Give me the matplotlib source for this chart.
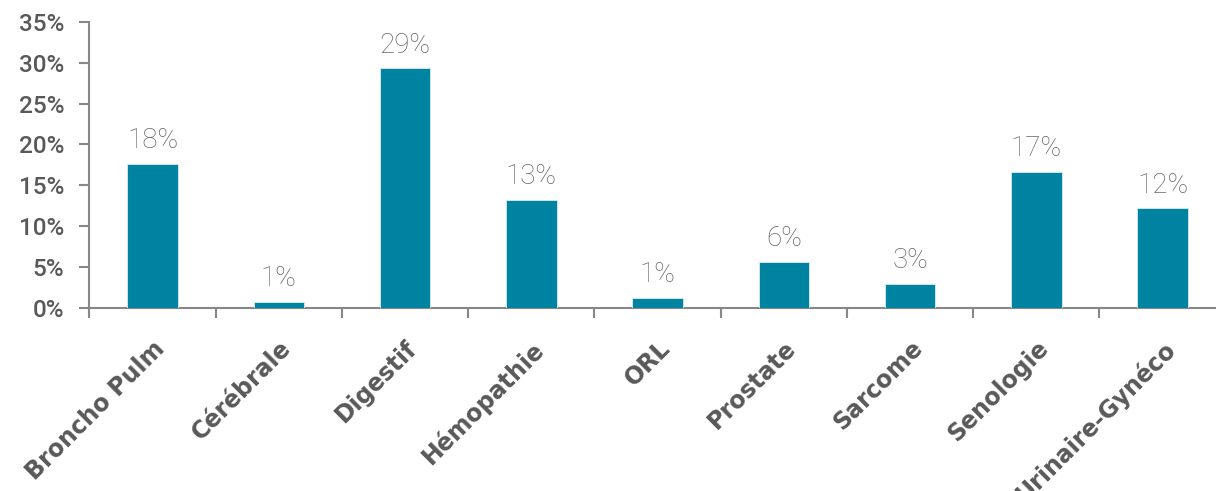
import matplotlib
matplotlib.use("Agg")
import matplotlib.pyplot as plt
from matplotlib.ticker import FixedLocator

categories = ["Broncho Pulm", "Cérébrale", "Digestif", "Hémopathie", "ORL",
              "Prostate", "Sarcome", "Senologie", "Urinaire-Gynéco"]
values = [17.6, 0.8, 29.3, 13.2, 1.3, 5.7, 3.0, 16.7, 12.2]
value_labels = ["18%", "1%", "29%", "13%", "1%", "6%", "3%", "17%", "12%"]
y_ticks = [0, 5, 10, 15, 20, 25, 30, 35]
y_tick_labels = ["0%", "5%", "10%", "15%", "20%", "25%", "30%", "35%"]

BAR = "#0083A1"
AXIS = "#878787"
TXT = "#595959"

fig = plt.figure(figsize=(12.16, 4.91), dpi=100)
ax = fig.add_axes([0.0736, 0.372, 1.008 - 0.0736, 0.956 - 0.372])

x = list(range(len(categories)))
ax.bar(x, values, width=0.40, color=BAR, edgecolor="#d8eef3", linewidth=0.6, zorder=3)

for xi, v, lab in zip(x, values, value_labels):
    ax.annotate(lab, (xi, v), xytext=(0, 7), textcoords="offset points",
                ha="center", va="bottom", fontsize=20, color="#666666",
                family="Roboto", fontweight="light")

ax.set_xlim(-0.5, len(categories) - 0.5)
ax.set_ylim(0, 35)

for s in ["top", "right"]:
    ax.spines[s].set_visible(False)
for s in ["left", "bottom"]:
    ax.spines[s].set_color(AXIS)
    ax.spines[s].set_linewidth(1.5)

ax.set_yticks(y_ticks)
ax.set_yticklabels(y_tick_labels, fontsize=17.5, color=TXT, family="Roboto", fontweight="medium")
ax.tick_params(axis="y", length=7, width=1.5, color=AXIS, pad=11)

ax.xaxis.set_major_locator(FixedLocator(x))
ax.set_xticklabels(categories)
ax.xaxis.set_minor_locator(FixedLocator([i - 0.5 for i in range(len(categories) + 1)]))
ax.tick_params(axis="x", which="major", length=0, pad=20)
ax.tick_params(axis="x", which="minor", length=7, width=1.5, color=AXIS)
for t in ax.get_xticklabels():
    t.set_rotation(45)
    t.set_ha("right")
    t.set_va("top")
    t.set_rotation_mode("anchor")
    t.set_fontsize(17)
    t.set_fontweight("bold")
    t.set_color(TXT)
    t.set_family("DejaVu Sans")

fig.savefig("out.png", dpi=100, facecolor="white")
